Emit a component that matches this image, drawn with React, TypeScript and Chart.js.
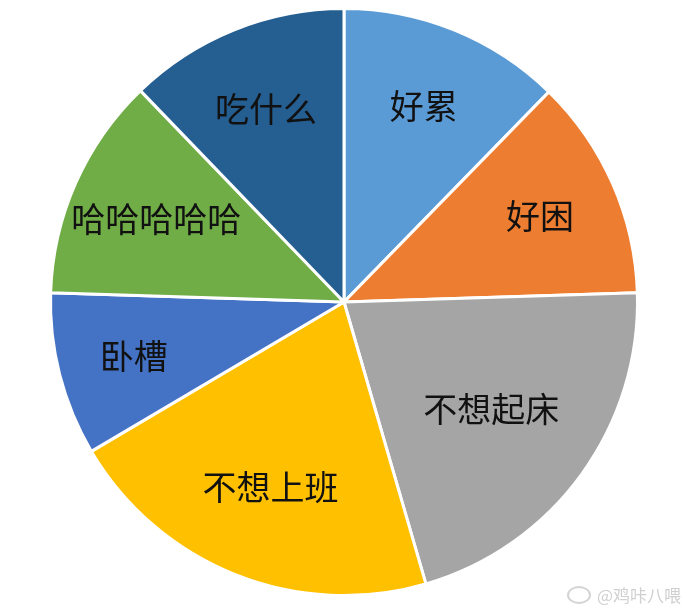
import React, { useEffect, useRef } from "react";
import { Chart, registerables } from "chart.js";

Chart.register(...registerables);

const categories = ["好累", "好困", "不想起床", "不想上班", "卧槽", "哈哈哈哈哈", "吃什么"];
const values = [12.3, 12.2, 21.0, 21.0, 9.0, 12.3, 12.2];
const colors = ["#5B9BD5", "#ED7D31", "#A5A5A5", "#FFC000", "#4472C4", "#70AD47", "#255E91"];
const labelRadii = [0.72, 0.73, 0.62, 0.68, 0.74, 0.7, 0.71];

const labelPlugin = {
  id: "sliceLabels",
  afterDatasetsDraw(chart: any) {
    const ctx = chart.ctx;
    const meta = chart.getDatasetMeta(0);
    ctx.save();
    ctx.font = '34px "Noto Sans CJK SC", "Noto Sans", sans-serif';
    ctx.fillStyle = "#111111";
    ctx.textAlign = "center";
    ctx.textBaseline = "middle";
    meta.data.forEach((arc: any, i: number) => {
      const p = arc.getProps(["x", "y", "startAngle", "endAngle", "outerRadius"], true);
      const mid = (p.startAngle + p.endAngle) / 2;
      const r = p.outerRadius * labelRadii[i];
      ctx.fillText(categories[i], p.x + Math.cos(mid) * r, p.y + Math.sin(mid) * r);
    });
    ctx.restore();
  },
};

export default function App() {
  const ref = useRef<HTMLCanvasElement | null>(null);
  useEffect(() => {
    if (!ref.current) return;
    const chart = new Chart(ref.current, {
      type: "pie",
      data: {
        labels: categories,
        datasets: [
          {
            data: values,
            backgroundColor: colors,
            borderColor: "#ffffff",
            borderWidth: 3,
          },
        ],
      },
      options: {
        responsive: false,
        animation: false,
        layout: { padding: { top: 7, bottom: 15, left: 49, right: 53 } },
        plugins: {
          legend: { display: false },
          tooltip: { enabled: false },
        },
      },
      plugins: [labelPlugin],
    });
    return () => chart.destroy();
  }, []);
  return (
    <div style={{ position: "fixed", left: 0, top: 0, width: 692, height: 612, background: "#fff" }}>
      <canvas ref={ref} width={692} height={612} style={{ width: 692, height: 612, display: "block" }} />
      <div
        style={{
          position: "absolute",
          left: 567,
          top: 582,
          fontFamily: '"Noto Sans CJK SC", sans-serif',
          fontSize: 17,
          color: "#d0d0d0",
          whiteSpace: "nowrap",
          display: "flex",
          alignItems: "center",
          gap: 6,
        }}
      >
        <span
          style={{
            display: "inline-block",
            width: 24,
            height: 18,
            borderRadius: "50%",
            border: "2px solid #d4d4d4",
            boxSizing: "border-box",
          }}
        />
        <span>@鸡咔八喂</span>
      </div>
    </div>
  );
}
